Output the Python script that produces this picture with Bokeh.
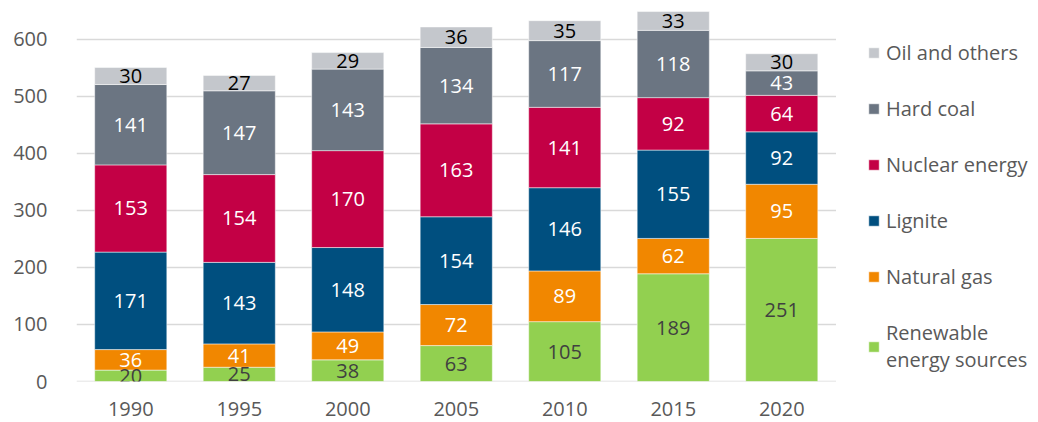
from bokeh.plotting import figure
from bokeh.models import ColumnDataSource, Range1d, Legend, LegendItem, FixedTicker
from bokeh.core.properties import value
from bokeh.embed import file_html
from bokeh.resources import INLINE
import numpy as np

years = ["1990", "1995", "2000", "2005", "2010", "2015", "2020"]
series = ["Renewable energy sources", "Natural gas", "Lignite", "Nuclear energy", "Hard coal", "Oil and others"]
legend_labels = ["Renewable\nenergy sources", "Natural gas", "Lignite", "Nuclear energy", "Hard coal", "Oil and others"]
renewables = [20, 25, 38, 63, 105, 189, 251]
natural_gas = [36, 41, 49, 72, 89, 62, 95]
lignite = [171, 143, 148, 154, 146, 155, 92]
nuclear = [153, 154, 170, 163, 141, 92, 64]
hard_coal = [141, 147, 143, 134, 117, 118, 43]
oil_others = [30, 27, 29, 36, 35, 33, 30]
y_ticks = [0, 100, 200, 300, 400, 500, 600]

colors = ["#92d050", "#f18700", "#004f7f", "#c30045", "#6b7582", "#c4c7cc"]
label_colors = ["#404040", "#ffffff", "#ffffff", "#ffffff", "#ffffff", "#000000"]
FONT = "Open Sans"

values = [renewables, natural_gas, lignite, nuclear, hard_coal, oil_others]
xpos = list(range(len(years)))
data = {"x": xpos}
for name, vals in zip(series, values):
    data[name] = vals
source = ColumnDataSource(data)

n = len(years)
p = figure(x_range=Range1d(-0.5, -0.5 + 962 / 108.5), y_range=Range1d(0, 652.6),
           width=1038, height=422, output_backend="svg", toolbar_location=None,
           min_border_left=76, min_border_right=0, min_border_top=9, min_border_bottom=41)
p.outline_line_color = None
p.xgrid.grid_line_color = None
p.ygrid.grid_line_color = None

# gridlines spanning the category area only
p.segment(x0=[-0.5] * len(y_ticks), x1=[n - 0.5] * len(y_ticks), y0=y_ticks, y1=y_ticks,
          line_color="#d9d9d9", line_width=1.5)

renderers = p.vbar_stack(series, x="x", width=0.665, color=colors, source=source,
                         line_color="white", line_width=0.5)

# segment labels
arr = np.array(values, dtype=float)
cum = np.cumsum(arr, axis=0)
mids = cum - arr / 2
for i in range(len(series)):
    lsrc = ColumnDataSource(dict(x=xpos, y=list(mids[i]), t=[str(v) for v in values[i]]))
    p.text(x="x", y="y", text="t", source=lsrc, text_align="center", text_baseline="middle",
           text_color=label_colors[i], text_font=value(FONT), text_font_size="20px")

# axes
p.xaxis.axis_line_color = None
p.yaxis.axis_line_color = None
p.xaxis.major_tick_line_color = None
p.yaxis.major_tick_line_color = None
p.xaxis.minor_tick_line_color = None
p.yaxis.minor_tick_line_color = None
p.yaxis.ticker = FixedTicker(ticks=y_ticks)
p.xaxis.ticker = FixedTicker(ticks=xpos)
p.xaxis.major_label_overrides = {i: y for i, y in zip(xpos, years)}
for ax in (p.xaxis[0], p.yaxis[0]):
    ax.major_label_text_font = FONT
    ax.major_label_text_font_size = "20px"
    ax.major_label_text_color = "#595959"
p.yaxis.major_label_standoff = 23
p.xaxis.major_label_standoff = 14

items = [LegendItem(label=legend_labels[i], renderers=[renderers[i]]) for i in range(len(series))][::-1]
legend = Legend(items=items, location=(791, 8), orientation="vertical",
                label_text_font=FONT, label_text_font_size="20px", label_text_color="#595959",
                glyph_width=13, glyph_height=13, label_standoff=6, padding=0, margin=0,
                spacing=29, label_height=24, border_line_color=None, background_fill_alpha=0)
p.add_layout(legend, "center")

open("out.html", "w").write(file_html(p, INLINE))
